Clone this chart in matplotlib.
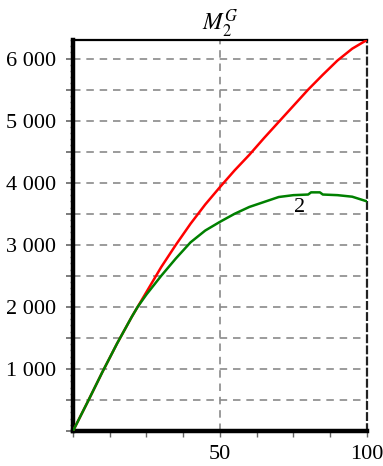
import matplotlib
matplotlib.use("Agg")
import matplotlib.pyplot as plt
from matplotlib.ticker import MultipleLocator, FuncFormatter

# values
xs = [0, 5, 10, 15, 20, 25, 30, 35, 40, 45, 50, 55, 60, 65, 70, 75, 80, 85, 90, 95, 100]
red_y = [0, 470, 950, 1410, 1840, 2240, 2640, 3000, 3340, 3650, 3930, 4200, 4450,
         4720, 4980, 5240, 5500, 5740, 5970, 6160, 6300]

green_x = [0, 5, 10, 15, 20, 22, 25, 30, 35, 40, 45, 50, 55, 60, 65, 70, 75, 80,
           81, 84, 85, 90, 95, 100]
green_y = [0, 470, 950, 1410, 1840, 2000, 2200, 2500, 2780, 3040, 3230, 3370, 3500,
           3610, 3690, 3770, 3800, 3810, 3845, 3845, 3810, 3800, 3775, 3700]

title = r"$M_2^G$"
curve_label = "2"

plt.rcParams["font.family"] = ["Liberation Serif", "DejaVu Serif"]
plt.rcParams["mathtext.fontset"] = "stix"

fig = plt.figure(figsize=(3.83, 4.66), dpi=100)
ax = fig.add_axes([0.1906, 0.0751, 0.7674, 0.8391])

ax.plot(xs, red_y, color="#ff0000", lw=1.8, zorder=3)
ax.plot(green_x, green_y, color="#008000", lw=1.8, zorder=4)

ax.set_xlim(0, 100)
ax.set_ylim(0, 6300)

# grid
for yv in range(500, 6300, 500):
    ax.axhline(yv, color="#8a8a8a", lw=1.2, ls=(0, (4.5, 3.5)), zorder=1)
ax.axvline(50, color="#8a8a8a", lw=1.2, ls=(0, (4.5, 3.5)), zorder=1)

# ticks
ax.yaxis.set_major_locator(MultipleLocator(500))
ax.yaxis.set_minor_locator(MultipleLocator(100))
ax.yaxis.set_major_formatter(FuncFormatter(
    lambda v, p: f"{int(v)//1000} 000" if v > 0 and int(v) % 1000 == 0 else ""))
ax.set_xticks([50, 100])
ax.xaxis.set_minor_locator(MultipleLocator(12.5))
ax.tick_params(axis="y", which="major", length=5, width=1.2, color="#666666",
               labelsize=16, pad=7)
ax.tick_params(axis="y", which="minor", length=2.5, width=1, color="#888888")
ax.tick_params(axis="x", which="major", length=4, width=1, color="#666666",
               labelsize=16, pad=6)
ax.tick_params(axis="x", which="minor", length=4, width=1, color="#666666")

# frame
ax.spines["left"].set_linewidth(3.2)
ax.spines["bottom"].set_linewidth(3.2)
ax.spines["top"].set_linewidth(1.6)
ax.spines["right"].set_linewidth(1.6)
ax.spines["right"].set_linestyle((0, (3, 2)))
ax.spines["right"].set_color("#222222")

ax.set_title(title, fontsize=17, pad=4)
ax.text(77, 3600, curve_label, fontsize=16, ha="center", va="center", zorder=5)

fig.savefig("out.png", dpi=100)
